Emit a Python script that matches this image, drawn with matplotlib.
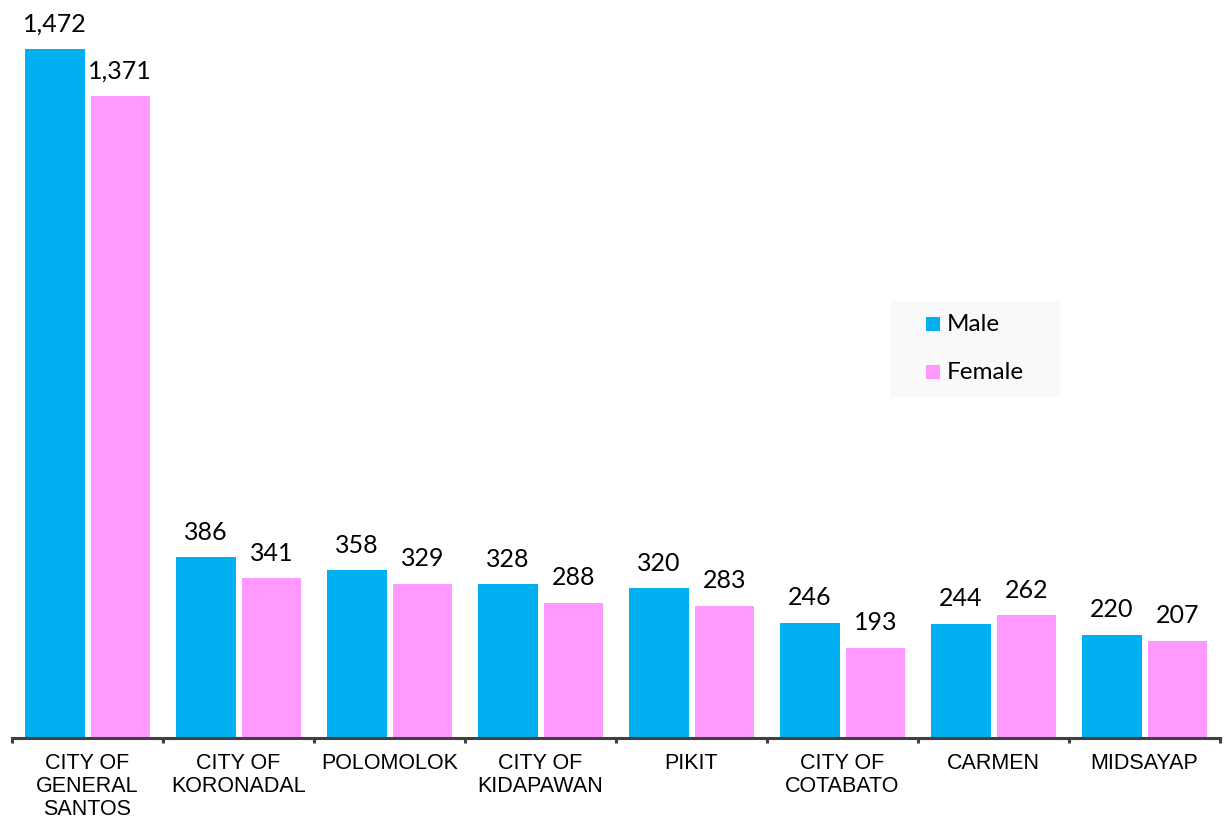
import matplotlib
matplotlib.use("Agg")
from matplotlib import pyplot as plt
from matplotlib.patches import Rectangle
import numpy as np

categories = ["CITY OF\nGENERAL\nSANTOS", "CITY OF\nKORONADAL", "POLOMOLOK",
              "CITY OF\nKIDAPAWAN", "PIKIT", "CITY OF\nCOTABATO", "CARMEN", "MIDSAYAP"]
male = [1472, 386, 358, 328, 320, 246, 244, 220]
female = [1371, 341, 329, 288, 283, 193, 262, 207]

MALE_C = '#00B0F0'
FEMALE_C = '#FF99FF'

fig = plt.figure(figsize=(12.24, 8.2), dpi=100)
ax = fig.add_axes([12/1224, 81/820, 1208/1224, 739/820])

x = np.arange(len(categories))
w = 60/151
off = 32.8/151
ax.bar(x - off, male, w, color=MALE_C)
ax.bar(x + off, female, w*59/60, color=FEMALE_C)

for xi, m, f in zip(x, male, female):
    ax.text(xi - off, m + 40, f"{m:,}", ha='center', va='baseline', fontsize=18, family='Lato')
    ax.text(xi + off, f + 40, f"{f:,}", ha='center', va='baseline', fontsize=18, family='Lato')

ax.set_xlim(-0.5, len(categories) - 0.5)
ax.set_ylim(0, 1579)
for s in ['top', 'right', 'left']:
    ax.spines[s].set_visible(False)
ax.spines['bottom'].set_color('#404040')
ax.spines['bottom'].set_linewidth(2.2)
ax.set_yticks([])
ax.set_xticks(np.arange(len(categories) + 1) - 0.5)
ax.set_xticklabels([])
ax.tick_params(axis='x', direction='out', length=3.5, width=2.2, color='#404040')
for xi, c in zip(x, categories):
    ax.text(xi, -29, c, ha='center', va='top', fontsize=15.5, family='Liberation Sans',
            linespacing=1.13)

# legend box drawn by hand
fig.patches.append(Rectangle((890/1224, 1 - 398/820), 170/1224, 96/820,
                             transform=fig.transFigure, facecolor='#f9f9f9',
                             edgecolor='none', zorder=3))
for i, (lab, col) in enumerate([('Male', MALE_C), ('Female', FEMALE_C)]):
    yc = 325 + 48*i
    fig.patches.append(Rectangle((926/1224, 1 - (yc + 7)/820), 14/1224, 14/820,
                                 transform=fig.transFigure, facecolor=col,
                                 edgecolor='none', zorder=4))
    fig.text(947/1224, 1 - yc/820, lab, ha='left', va='center', fontsize=17.5,
             family='Lato', zorder=5)

fig.savefig('out.png', dpi=100)
